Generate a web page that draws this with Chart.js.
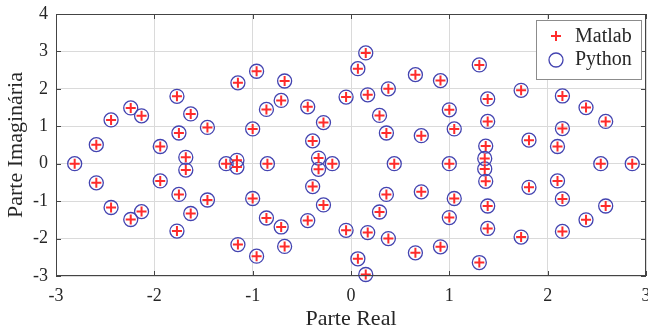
<!DOCTYPE html>
<html>
<head>
<meta charset="utf-8">
<script src="https://cdn.jsdelivr.net/npm/chart.js@4/dist/chart.umd.min.js"></script>
<style>
  html, body { margin: 0; padding: 0; background: #fff; }
  #wrap { width: 648px; height: 332px; }
</style>
</head>
<body>
<div id="wrap"><canvas id="rootsChart" width="648" height="332"></canvas></div>
<script>
// roots (real part, imaginary part), same for both series
const realParts = [
  -2.81, -2.59, -2.59, -2.44, -2.44, -2.24, -2.24, -2.13, -2.13,
  -1.94, -1.94, -1.77, -1.77, -1.75, -1.75, -1.68, -1.68, -1.63, -1.63, -1.46, -1.46,
  -1.27, -1.16, -1.16, -1.15, -1.15, -1.00, -1.00, -0.96, -0.96, -0.86, -0.86, -0.85,
  -0.71, -0.71, -0.675, -0.675, -0.44, -0.44, -0.39, -0.39, -0.33, -0.33, -0.28, -0.28, -0.19,
  -0.05, -0.05, 0.07, 0.07, 0.15, 0.15, 0.17, 0.17, 0.29, 0.29, 0.36, 0.36, 0.38, 0.38, 0.44,
  0.655, 0.655, 0.715, 0.715, 0.91, 0.91, 1.00, 1.00, 1.00, 1.05, 1.05, 1.305, 1.305,
  1.36, 1.36, 1.37, 1.37, 1.39, 1.39, 1.39, 1.39, 1.73, 1.73, 1.81, 1.81,
  2.10, 2.10, 2.15, 2.15, 2.15, 2.15, 2.39, 2.39, 2.54, 2.59, 2.59, 2.86
];
const imagParts = [
  0, 0.51, -0.51, 1.17, -1.17, 1.49, -1.49, 1.28, -1.28,
  0.46, -0.46, 1.80, -1.80, 0.82, -0.82, 0.17, -0.17, 1.33, -1.33, 0.97, -0.97,
  0, 0.09, -0.09, 2.16, -2.16, 0.93, -0.93, 2.47, -2.47, 1.45, -1.45, 0,
  1.69, -1.69, 2.21, -2.21, 1.52, -1.52, 0.61, -0.61, 0.15, -0.15, 1.10, -1.10, 0,
  1.78, -1.78, 2.54, -2.54, 2.96, -2.96, 1.84, -1.84, 1.29, -1.29, 0.82, -0.82, 2.00, -2.00, 0,
  2.38, -2.38, 0.75, -0.75, 2.22, -2.22, 1.44, -1.44, 0, 0.93, -0.93, 2.64, -2.64,
  0.14, -0.14, 0.47, -0.47, 1.73, -1.73, 1.13, -1.13, 1.96, -1.96, 0.63, -0.63,
  0.46, -0.46, 1.81, -1.81, 0.94, -0.94, 1.50, -1.50, 0, 1.13, -1.13, 0
];
const seriesNames = ['Matlab', 'Python'];
const xTicks = [-3, -2, -1, 0, 1, 2, 3];
const yTicks = [-3, -2, -1, 0, 1, 2, 3, 4];

const points = realParts.map((re, i) => ({ x: re, y: imagParts[i] }));

const serif = "'Liberation Serif', 'Times New Roman', serif";
const textColor = '#262626';
const red = '#ff2b2b';
const blue = '#4343b0';

// box around plot + inward ticks like matlab
const boxPlugin = {
  id: 'box',
  afterDatasetsDraw(chart) {
    const c = chart.ctx;
    const a = chart.chartArea;
    const xs = chart.scales.x, ys = chart.scales.y;
    c.save();
    c.strokeStyle = '#444';
    c.lineWidth = 1;
    c.strokeRect(a.left + 0.5, a.top + 0.5, a.right - a.left - 1, a.bottom - a.top - 1);
    c.beginPath();
    xTicks.forEach(v => {
      const px = Math.round(xs.getPixelForValue(v)) + 0.5;
      c.moveTo(px, a.bottom); c.lineTo(px, a.bottom - 5);
      c.moveTo(px, a.top); c.lineTo(px, a.top + 5);
    });
    yTicks.forEach(v => {
      const py = Math.round(ys.getPixelForValue(v)) + 0.5;
      c.moveTo(a.left, py); c.lineTo(a.left + 5, py);
      c.moveTo(a.right, py); c.lineTo(a.right - 5, py);
    });
    c.stroke();
    c.restore();
  }
};

// legend box at top right
const legendPlugin = {
  id: 'boxLegend',
  afterDraw(chart) {
    const c = chart.ctx;
    const a = chart.chartArea;
    const w = 105, h = 59;
    const x0 = a.right - 110, y0 = a.top + 6;
    c.save();
    c.fillStyle = '#fff';
    c.fillRect(x0, y0, w, h);
    c.strokeStyle = '#8c8c8c';
    c.lineWidth = 1;
    c.strokeRect(x0 + 0.5, y0 + 0.5, w, h);
    const ds = chart.data.datasets;
    c.font = '20px ' + serif;
    c.fillStyle = textColor;
    c.textBaseline = 'middle';
    ds.forEach((d, i) => {
      const cy = y0 + 16 + i * 23;
      const cx = x0 + 20;
      c.beginPath();
      c.strokeStyle = d.borderColor;
      c.lineWidth = d.borderWidth;
      if (d.pointStyle === 'cross') {
        c.moveTo(cx - 5, cy); c.lineTo(cx + 5, cy);
        c.moveTo(cx, cy - 5); c.lineTo(cx, cy + 5);
      } else {
        c.arc(cx, cy + 1, 7, 0, Math.PI * 2);
      }
      c.stroke();
      c.fillText(d.label, x0 + 39, cy + 1);
    });
    c.restore();
  }
};

new Chart(document.getElementById('rootsChart').getContext('2d'), {
  type: 'scatter',
  data: {
    datasets: [
      {
        label: seriesNames[0],
        data: points,
        pointStyle: 'cross',
        radius: 5,
        borderColor: red,
        borderWidth: 2,
        clip: false,
        order: 0
      },
      {
        label: seriesNames[1],
        data: points,
        pointStyle: 'circle',
        radius: 7,
        borderColor: blue,
        backgroundColor: 'rgba(0,0,0,0)',
        borderWidth: 1.3,
        clip: false,
        order: 1
      }
    ]
  },
  options: {
    responsive: false,
    animation: false,
    events: [],
    layout: { autoPadding: false, padding: { top: 14, right: 2, left: 0, bottom: 0 } },
    plugins: { legend: { display: false }, tooltip: { enabled: false } },
    scales: {
      x: {
        type: 'linear',
        min: -3, max: 3,
        afterBuildTicks(s) { s.ticks = xTicks.map(v => ({ value: v })); },
        afterFit(s) { s.height = 56; s.paddingLeft = 0; s.paddingRight = 0; },
        grid: { color: '#dadada', drawTicks: false },
        border: { display: false },
        ticks: { padding: 9, color: textColor, font: { family: serif, size: 18 } },
        title: { display: true, text: 'Parte Real', color: textColor, padding: 0, font: { family: serif, size: 22 } }
      },
      y: {
        type: 'linear',
        min: -3, max: 4,
        afterBuildTicks(s) { s.ticks = yTicks.map(v => ({ value: v })); },
        afterFit(s) { s.width = 56; s.paddingTop = 0; s.paddingBottom = 0; },
        grid: { color: '#dadada', drawTicks: false },
        border: { display: false },
        ticks: { padding: 8, color: textColor, font: { family: serif, size: 18 } },
        title: { display: true, text: 'Parte Imaginária', color: textColor, padding: { top: 3, bottom: 0 }, font: { family: serif, size: 22 } }
      }
    }
  },
  plugins: [boxPlugin, legendPlugin]
});
</script>
</body>
</html>
